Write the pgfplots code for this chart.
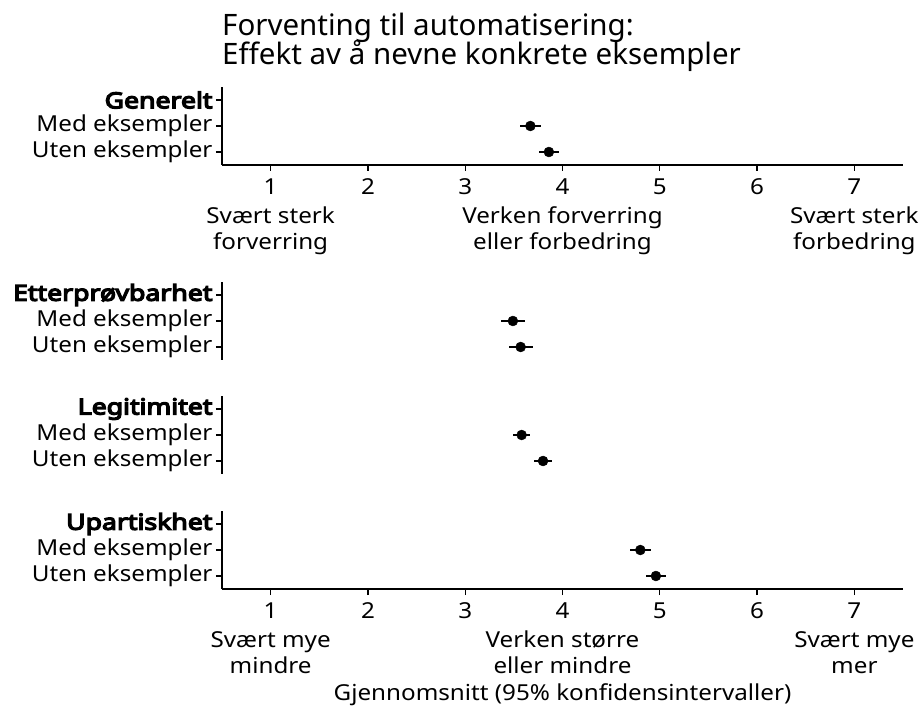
\documentclass[border=0pt]{standalone}
\usepackage{fontspec}
\setmainfont{Noto Sans}
\newfontfamily\tickfont{Noto Sans}[FakeStretch=1.1]
\newfontfamily\tickbf{Noto Sans}[FakeStretch=1.21, FakeBold=6]
\usepackage{pgfplots}
\pgfplotsset{compat=1.18}

\pgfplotsset{
  panel/.style={
    scale only axis, width=681pt, height=78pt,
    anchor=south west,
    xmin=0.5, xmax=7.5, ymin=0.5, ymax=3.5,
    axis line style={line width=1.3pt, black},
    tick style={line width=1.3pt, black},
    tick align=outside, major tick length=6pt,
    ytick={1,2,3},
    xtick={1,...,7},
    every tick label/.style={font=\tickfont\fontsize{22}{26}\selectfont, text=black},
    xticklabel style={align=center, yshift=-4pt},
    clip=false,
  },
  pts/.style={
    only marks, mark=*, mark size=5pt, black,
    error bars/x dir=both, error bars/x explicit,
    error bars/error mark=none,
    error bars/error bar style={line width=2.2pt, black},
  },
}

\begin{document}
\begin{tikzpicture}
\useasboundingbox (0,0) rectangle (924pt,-708pt);

\node[anchor=base west, font=\fontsize{29.5}{33}\selectfont, inner sep=0pt] at (222pt,-36pt) {Forventing til automatisering:};
\node[anchor=base west, font=\fontsize{29.5}{33}\selectfont, inner sep=0pt] at (222pt,-65pt) {Effekt av å nevne konkrete eksempler};

% Generelt
\begin{axis}[panel, at={(222pt,-165pt)},
  axis x line*=bottom, axis y line*=left,
  yticklabels={Uten eksempler, Med eksempler, {\tickbf Generelt}},
  xticklabels={{1\\[3pt]Svært sterk\\forverring},2,3,{4\\[3pt]Verken forverring\\eller forbedring},5,6,{7\\[3pt]Svært sterk\\forbedring}},
]
\addplot[pts] coordinates {
  (3.86,1) +- (0.10,0)
  (3.67,2) +- (0.105,0)
};
\end{axis}

% Etterproevbarhet
\begin{axis}[panel, at={(222pt,-360pt)},
  axis x line=none, axis y line*=left,
  yticklabels={Uten eksempler, Med eksempler, {\tickbf Etterprøvbarhet}},
]
\addplot[pts] coordinates {
  (3.57,1) +- (0.125,0)
  (3.49,2) +- (0.125,0)
};
\end{axis}

% Legitimitet
\begin{axis}[panel, at={(222pt,-474pt)},
  axis x line=none, axis y line*=left,
  yticklabels={Uten eksempler, Med eksempler, {\tickbf Legitimitet}},
]
\addplot[pts] coordinates {
  (3.80,1) +- (0.095,0)
  (3.58,2) +- (0.09,0)
};
\end{axis}

% Upartiskhet
\begin{axis}[panel, at={(222pt,-589pt)},
  axis x line*=bottom, axis y line*=left,
  yticklabels={Uten eksempler, Med eksempler, {\tickbf Upartiskhet}},
  xticklabels={{1\\[3pt]Svært mye\\mindre},2,3,{4\\[3pt]Verken større\\eller mindre},5,6,{7\\[3pt]Svært mye\\mer}},
  xlabel={Gjennomsnitt (95\% konfidensintervaller)},
  xlabel style={font=\tickfont\fontsize{22}{26}\selectfont, inner sep=0pt,
    at={(axis description cs:0.5,0)}, anchor=base, yshift=-111pt},
]
\addplot[pts] coordinates {
  (4.96,1) +- (0.10,0)
  (4.80,2) +- (0.105,0)
};
\end{axis}
\end{tikzpicture}
\end{document}
